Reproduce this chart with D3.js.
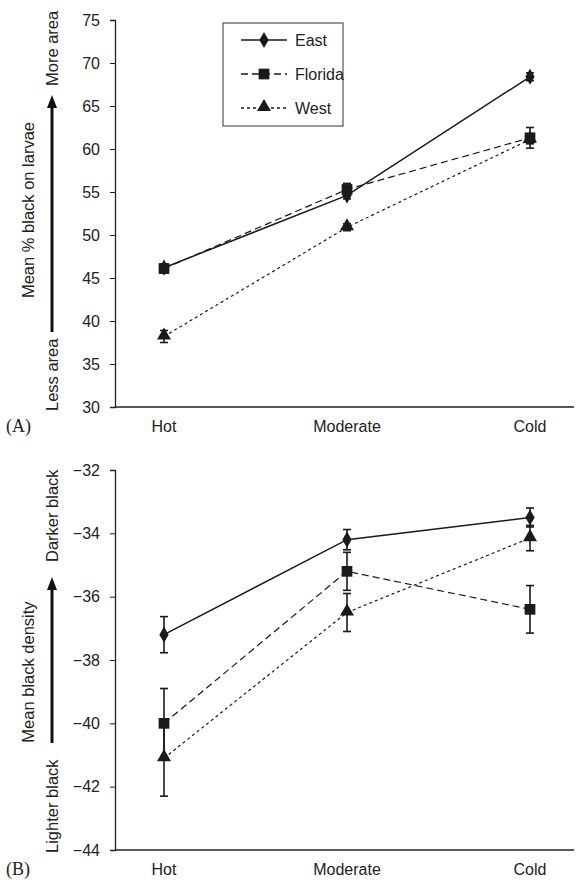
<!DOCTYPE html>
<html>
<head>
<meta charset="utf-8">
<script src="https://cdn.jsdelivr.net/npm/d3@7"></script>
<style>
  body { margin: 0; background: #fff; }
  text { font-family: "Liberation Sans", Arial, sans-serif; fill: #222; }
</style>
</head>
<body>
<div id="chart"></div>
<script>
  var width = 580, height = 882;

  // categories and series
  var temps = ["Hot", "Moderate", "Cold"];
  var seriesNames = ["East", "Florida", "West"];

  // panel A: mean % black on larvae
  var areaMean = {
    East:    [46.2, 54.6, 68.4],
    Florida: [46.1, 55.3, 61.3],
    West:    [38.2, 50.9, 61.1]
  };
  var areaErr = {
    East:    [0.4, 0.4, 0.45],
    Florida: [0.5, 0.7, 1.2],
    West:    [0.7, 0.4, 0.5]
  };
  var areaTicks = [30, 35, 40, 45, 50, 55, 60, 65, 70, 75];

  // panel B: mean black density
  var densMean = {
    East:    [-37.2, -34.2, -33.5],
    Florida: [-40.0, -35.2, -36.4],
    West:    [-41.1, -36.5, -34.15]
  };
  var densErr = {
    East:    [0.57, 0.32, 0.3],
    Florida: [1.1, 0.6, 0.75],
    West:    [1.2, 0.6, 0.4]
  };
  var densTicks = [-44, -42, -40, -38, -36, -34, -32];

  var dashes = { East: null, Florida: "7,4", West: "3,3" };

  var svg = d3.select("#chart").append("svg")
    .attr("width", width)
    .attr("height", height);

  var axisX = 115;
  var x = d3.scalePoint().domain(temps).range([164, 530]);

  /*
    draws a symbol for a series at (cx, cy)
  */
  function marker(g, name, cx, cy) {
    var type = name == "East" ? d3.symbolDiamond : name == "Florida" ? d3.symbolSquare : d3.symbolTriangle;
    var size = name == "East" ? 75 : name == "Florida" ? 115 : 85;
    g.append("path")
      .attr("d", d3.symbol().type(type).size(size)())
      .attr("transform", "translate(" + cx + "," + (name == "West" ? cy - 1 : cy) + ")")
      .attr("fill", "#1a1a1a");
  }

  function panel(opt) {
    var y = d3.scaleLinear().domain(opt.domain).range([opt.bottom, opt.top]);
    var g = svg.append("g");

    var yAxis = d3.axisLeft(y).tickValues(opt.ticks).tickSize(5).tickPadding(10);
    g.append("g")
      .attr("transform", "translate(" + axisX + ",0)")
      .call(yAxis)
      .call(function (a) {
        a.select(".domain").attr("stroke", "#222").attr("stroke-width", 1.3);
        a.selectAll(".tick line").attr("stroke", "#222");
        a.selectAll("text").style("font-size", "16px").attr("font-family", "Liberation Sans, Arial, sans-serif");
      });

    // x baseline
    g.append("line")
      .attr("x1", axisX).attr("x2", 574)
      .attr("y1", opt.bottom).attr("y2", opt.bottom)
      .attr("stroke", "#222").attr("stroke-width", 1.6);

    g.selectAll(".xlab")
      .data(temps)
      .enter().append("text")
      .attr("x", function (d) { return x(d); })
      .attr("y", opt.bottom + 25)
      .attr("text-anchor", "middle")
      .style("font-size", "16px")
      .text(function (d) { return d; });

    // panel letter
    g.append("text")
      .attr("x", 6).attr("y", opt.bottom + 25)
      .style("font-family", "Liberation Serif, Times New Roman, serif")
      .style("font-size", "18px")
      .text(opt.label);

    // y titles
    g.append("text")
      .attr("transform", "translate(34," + opt.titleMid + ") rotate(-90)")
      .attr("text-anchor", "middle")
      .style("font-size", "16.5px")
      .text(opt.title);
    g.append("text")
      .attr("transform", "translate(58," + opt.hiStart + ") rotate(-90)")
      .style("font-size", "16.5px")
      .text(opt.hi);
    g.append("text")
      .attr("transform", "translate(58," + opt.loStart + ") rotate(-90)")
      .style("font-size", "16.5px")
      .text(opt.lo);

    // arrow
    g.append("line")
      .attr("x1", 52).attr("x2", 52)
      .attr("y1", opt.arrowBot).attr("y2", opt.arrowTop + 10)
      .attr("stroke", "#111").attr("stroke-width", 3);
    g.append("path")
      .attr("d", "M47," + (opt.arrowTop + 13) + "L52," + opt.arrowTop + "L57," + (opt.arrowTop + 13) + "Z")
      .attr("fill", "#111");

    // lines
    var line = d3.line()
      .x(function (d, i) { return x(temps[i]); })
      .y(function (d) { return y(d); });

    seriesNames.slice().reverse().forEach(function (name) {
      g.append("path")
        .datum(opt.means[name])
        .attr("d", line)
        .attr("fill", "none")
        .attr("stroke", "#1a1a1a")
        .attr("stroke-width", name == "East" ? 1.5 : 1.2)
        .attr("stroke-dasharray", dashes[name]);
    });

    // error bars and markers
    seriesNames.forEach(function (name) {
      opt.means[name].forEach(function (m, i) {
        var cx = x(temps[i]);
        var e = opt.errs[name][i];
        g.append("line")
          .attr("x1", cx).attr("x2", cx)
          .attr("y1", y(m - e)).attr("y2", y(m + e))
          .attr("stroke", "#1a1a1a").attr("stroke-width", 1.6);
        [m - e, m + e].forEach(function (v) {
          g.append("line")
            .attr("x1", cx - 4).attr("x2", cx + 4)
            .attr("y1", y(v)).attr("y2", y(v))
            .attr("stroke", "#1a1a1a").attr("stroke-width", 1.6);
        });
      });
    });
    seriesNames.forEach(function (name) {
      opt.means[name].forEach(function (m, i) {
        marker(g, name, x(temps[i]), y(m));
      });
    });

    if (opt.legend) {
      var lg = g.append("g");
      lg.append("rect")
        .attr("x", 223).attr("y", 23)
        .attr("width", 120).attr("height", 103)
        .attr("fill", "#fff").attr("stroke", "#333").attr("stroke-width", 1);
      seriesNames.forEach(function (name, i) {
        var ly = 40 + i * 34;
        lg.append("line")
          .attr("x1", 241).attr("x2", 287)
          .attr("y1", ly).attr("y2", ly)
          .attr("stroke", "#1a1a1a")
          .attr("stroke-width", 1.3)
          .attr("stroke-dasharray", dashes[name]);
        marker(lg, name, 264, ly);
        lg.append("text")
          .attr("x", 295).attr("y", ly + 6)
          .style("font-size", "16px")
          .text(name);
      });
    }
  }

  panel({
    top: 20, bottom: 407, domain: [30, 75], ticks: areaTicks,
    means: areaMean, errs: areaErr, label: "(A)",
    title: "Mean % black on larvae", titleMid: 210,
    hi: "More area", hiStart: 86, lo: "Less area", loStart: 411,
    arrowTop: 95, arrowBot: 332, legend: true
  });

  panel({
    top: 470, bottom: 850, domain: [-44, -32], ticks: densTicks,
    means: densMean, errs: densErr, label: "(B)",
    title: "Mean black density", titleMid: 672,
    hi: "Darker black", hiStart: 562, lo: "Lighter black", loStart: 853,
    arrowTop: 577, arrowBot: 743, legend: false
  });
</script>
</body>
</html>
